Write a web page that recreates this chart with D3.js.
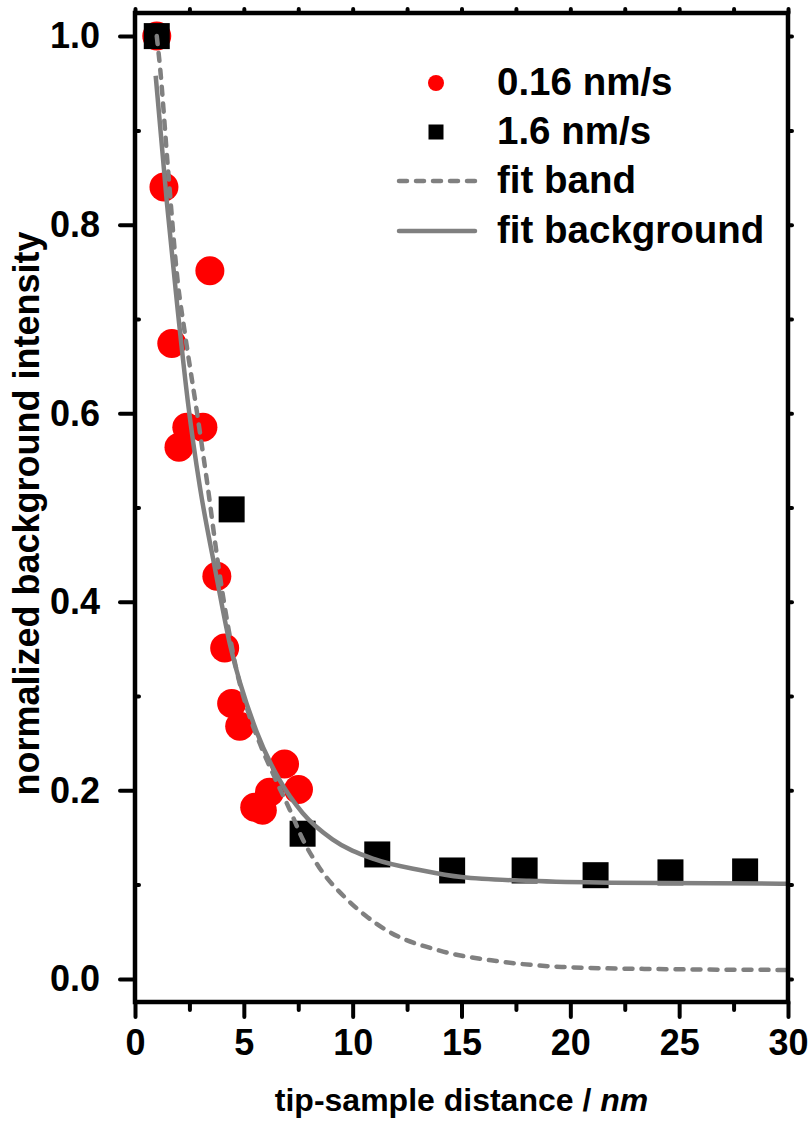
<!DOCTYPE html>
<html>
<head>
<meta charset="utf-8">
<script src="https://cdn.jsdelivr.net/npm/d3@7"></script>
<style>
  body { margin: 0; background: #fff; }
  svg text { font-family: "Liberation Sans", Arial, sans-serif; font-weight: bold; }
</style>
</head>
<body>
<svg id="chart" width="812" height="1124"></svg>
<script>
"use strict";

// plot frame in pixels
const plotLeft = 135, plotRight = 788, plotTop = 13, plotBottom = 1002;

// 0.16 nm/s (red circles)
const slowX = [1.0, 1.33, 3.44, 1.69, 2.38, 3.12, 2.02, 3.76, 4.12, 4.44, 4.81, 6.87, 7.51, 6.18, 5.50, 5.85];
const slowY = [1.0, 0.840, 0.751, 0.674, 0.585, 0.585, 0.564, 0.427, 0.351, 0.292, 0.268, 0.228, 0.201, 0.198, 0.182, 0.179];

// 1.6 nm/s (black squares)
const fastX = [1.0, 4.44, 7.7, 11.13, 14.57, 17.9, 21.16, 24.6, 28.03];
const fastY = [1.0, 0.498, 0.154, 0.132, 0.115, 0.115, 0.110, 0.113, 0.114];

// fit band (dashed)
const bandX = [1.0, 1.15, 1.51, 1.97, 2.29, 2.84, 3.30, 3.82, 4.26, 4.67, 5.20, 5.73, 6.41, 7.10, 7.75, 8.47, 9.71, 10.6, 11.6, 14.0, 16.6, 19.6, 23.4, 30.0];
const bandY = [1.0, 0.967, 0.861, 0.738, 0.685, 0.602, 0.529, 0.440, 0.376, 0.327, 0.283, 0.250, 0.214, 0.180, 0.146, 0.118, 0.085, 0.067, 0.051, 0.030, 0.019, 0.0127, 0.0106, 0.0095];

// fit background (solid)
const bgX = [0.95, 1.47, 1.95, 2.43, 2.98, 3.66, 4.35, 5.59, 6.64, 7.7, 9.07, 11.0, 13.2, 15.0, 18.1, 21.9, 30.0];
const bgY = [0.958, 0.822, 0.712, 0.612, 0.522, 0.437, 0.356, 0.262, 0.211, 0.176, 0.148, 0.127, 0.115, 0.108, 0.104, 0.102, 0.101];

const xMajor = [0, 5, 10, 15, 20, 25, 30];
const xMinor = [2.5, 7.5, 12.5, 17.5, 22.5, 27.5];
const yMajor = [0.0, 0.2, 0.4, 0.6, 0.8, 1.0];
const yMinor = [0.1, 0.3, 0.5, 0.7, 0.9];

const legendLabels = ["0.16 nm/s", "1.6 nm/s", "fit band", "fit background"];

const xTitle = "tip-sample distance / ";
const xUnit = "nm";
const yTitle = "normalized background intensity";

const grey = "#808080";

const svg = d3.select("#chart");

const xScale = d3.scaleLinear().domain([0, 30]).range([plotLeft, plotRight]);
const yScale = d3.scaleLinear().domain([-0.0245, 1.0245]).range([plotBottom, plotTop]);

// markers
svg.append("g").selectAll("circle")
    .data(d3.zip(slowX, slowY))
    .join("circle")
    .attr("cx", d => xScale(d[0]))
    .attr("cy", d => yScale(d[1]))
    .attr("r", 14.5)
    .attr("fill", "#ff0000");

svg.append("g").selectAll("rect")
    .data(d3.zip(fastX, fastY))
    .join("rect")
    .attr("x", d => xScale(d[0]) - 13)
    .attr("y", d => yScale(d[1]) - 13)
    .attr("width", 26)
    .attr("height", 26)
    .attr("fill", "#000");

// fit lines
const line = d3.line()
    .x(d => xScale(d[0]))
    .y(d => yScale(d[1]))
    .curve(d3.curveMonotoneX);

svg.append("path")
    .datum(d3.zip(bandX, bandY))
    .attr("d", line)
    .attr("fill", "none")
    .attr("stroke", grey)
    .attr("stroke-width", 4.5)
    .attr("stroke-dasharray", "8 9")
    .attr("stroke-linecap", "round");

svg.append("path")
    .datum(d3.zip(bgX, bgY))
    .attr("d", line)
    .attr("fill", "none")
    .attr("stroke", grey)
    .attr("stroke-width", 4.5);

// axes
function styleAxis(g) {
    g.select(".domain").remove();
    g.selectAll("line").attr("stroke", "#000").attr("stroke-width", 4).attr("stroke-linecap", "round");
    g.selectAll("text").attr("fill", "#000").style("font-size", "36px");
}

const xAxis = svg.append("g")
    .attr("transform", `translate(0,${plotBottom})`)
    .call(d3.axisBottom(xScale).tickValues(xMajor).tickSize(15).tickFormat(d3.format("d")))
    .call(styleAxis);
xAxis.selectAll("text").attr("y", 53).attr("dy", null);

svg.append("g")
    .attr("transform", `translate(0,${plotBottom})`)
    .call(d3.axisBottom(xScale).tickValues(xMinor).tickSize(8).tickFormat(""))
    .call(styleAxis);

const yAxis = svg.append("g")
    .attr("transform", `translate(${plotLeft},0)`)
    .call(d3.axisLeft(yScale).tickValues(yMajor).tickSize(15).tickPadding(20).tickFormat(d3.format(".1f")))
    .call(styleAxis);
yAxis.selectAll("text").attr("dy", "0.33em");

svg.append("g")
    .attr("transform", `translate(${plotLeft},0)`)
    .call(d3.axisRight(yScale).tickValues(yMinor).tickSize(4).tickFormat(""))
    .call(styleAxis);

// small outer nubs on top and right
svg.append("g")
    .attr("transform", `translate(0,${plotTop})`)
    .call(d3.axisTop(xScale).tickValues(xMajor.concat(xMinor)).tickSize(4).tickFormat(""))
    .call(styleAxis);

svg.append("g")
    .attr("transform", `translate(${plotRight},0)`)
    .call(d3.axisRight(yScale).tickValues(yMajor.concat(yMinor)).tickSize(4).tickFormat(""))
    .call(styleAxis);

// frame
svg.append("rect")
    .attr("x", plotLeft)
    .attr("y", plotTop)
    .attr("width", plotRight - plotLeft)
    .attr("height", plotBottom - plotTop)
    .attr("fill", "none")
    .attr("stroke", "#000")
    .attr("stroke-width", 4.5);

// axis titles
const xt = svg.append("text")
    .attr("x", (plotLeft + plotRight) / 2)
    .attr("y", 1111)
    .attr("text-anchor", "middle")
    .style("font-size", "32px")
    .text(xTitle);
xt.append("tspan").style("font-style", "italic").text(xUnit);

svg.append("text")
    .attr("transform", `translate(39,${(plotTop + plotBottom) / 2 + 6}) rotate(-90)`)
    .attr("text-anchor", "middle")
    .style("font-size", "36px")
    .text(yTitle);

// legend
const legendY = [83, 132, 181, 231];
const legend = svg.append("g");

legend.append("circle")
    .attr("cx", 436).attr("cy", legendY[0]).attr("r", 8)
    .attr("fill", "#ff0000");
legend.append("rect")
    .attr("x", 436 - 7.5).attr("y", legendY[1] - 7.5)
    .attr("width", 15).attr("height", 15)
    .attr("fill", "#000");
legend.append("line")
    .attr("x1", 399).attr("x2", 475)
    .attr("y1", legendY[2]).attr("y2", legendY[2])
    .attr("stroke", grey).attr("stroke-width", 4.5)
    .attr("stroke-dasharray", "8 9").attr("stroke-linecap", "round");
legend.append("line")
    .attr("x1", 399).attr("x2", 475)
    .attr("y1", legendY[3]).attr("y2", legendY[3])
    .attr("stroke", grey).attr("stroke-width", 4.5)
    .attr("stroke-linecap", "round");

legend.selectAll("text.lab")
    .data(legendLabels)
    .join("text")
    .attr("class", "lab")
    .attr("x", 497)
    .attr("y", (d, i) => legendY[i] + 12)
    .style("font-size", "38.5px")
    .text(d => d);
</script>
</body>
</html>
